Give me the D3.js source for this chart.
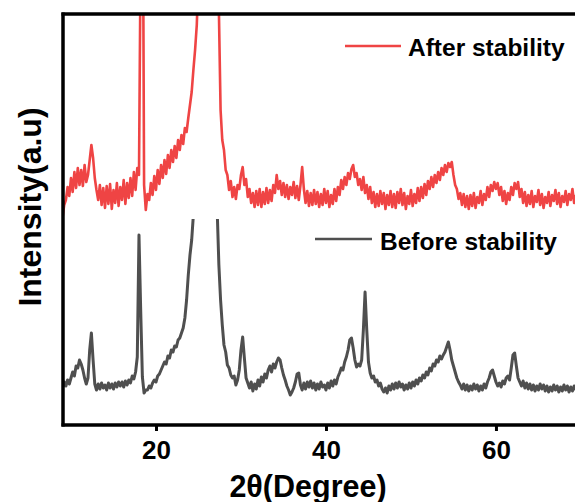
<!DOCTYPE html>
<html><head><meta charset="utf-8">
<script src="https://cdn.jsdelivr.net/npm/d3@7"></script>
<style>body{margin:0;background:#fff}svg{display:block}text{font-family:"Liberation Sans",Arial,sans-serif;font-weight:bold;fill:#000}</style>
</head><body>
<svg id="c" width="575" height="502"></svg>
<script>
// 2θ sampling: start and step (degrees)
const thetaStart = 9.0, thetaStep = 0.2;
const xTicks = [20, 40, 60];
const seriesNames = ["After stability", "Before stability"];
// After stability (red), intensity a.u., one value per 0.2°
const afterStability = [
207,220,225,238,229, 247,233,253,237,257, 240,255,239,260,243, 250,265,280,267,247,
235,225,240,220,237, 217,239,221,241,216, 235,222,242,219,238, 225,245,221,242,227,
247,229,253,235,257, 250,480,650,240,215, 231,225,242,230,249, 235,255,241,260,247,
265,251,270,257,275, 263,279,267,285,275, 290,281,297,293,307, 320,333,355,375,400,
450,520,600,650,680, 700,680,640,580,500, 470,440,415,315,285, 275,255,250,235,244,
228,238,226,240,236, 250,258,240,246,228, 236,222,232,218,234, 220,236,218,233,221,
237,222,235,224,240, 232,250,236,244,230, 242,228,240,226,238, 230,243,227,239,225,
240,258,236,222,234, 219,232,220,235,221, 233,218,231,220,236, 222,234,218,230,221,
236,224,238,230,245, 236,248,240,252,246, 256,260,248,252,240, 246,235,248,232,240,
226,238,222,233,218, 231,219,234,221,232, 216,230,220,234,218, 231,217,233,222,236,
220,232,216,229,221, 235,219,231,222,237, 224,238,227,241,230, 244,236,248,238,250,
242,253,245,257,250, 260,253,262,258,263, 250,240,236,226,232, 220,231,218,229,216,
230,219,232,217,228, 222,234,220,231,225, 238,228,240,234,243, 236,242,230,238,224,
234,221,232,225,238, 230,242,236,243,228, 236,222,233,219,230, 221,234,218,229,223,
235,220,231,217,228, 222,233,219,230,224, 235,221,232,218,229, 223,234,220,231,225,
236,222,230];
// Before stability (grey)
const beforeStability = [
37,43,39,45,41, 47,53,49,59,57, 65,61,55,47,41, 47,75,92,65,41,
35,41,36,42,37, 40,35,42,37,41, 36,42,38,43,39, 43,38,44,40,45,
42,49,46,53,68, 190,115,48,32,35, 35,39,37,42,45, 43,49,51,55,59,
63,61,69,67,75, 73,79,78,85,87, 92,97,107,125,150, 170,185,210,250,300,
350,400,420,420,400, 420,410,400,380,340, 280,215,160,125,100, 80,73,60,57,50,
47,49,40,45,55, 75,88,67,47,42, 37,43,34,41,36, 45,39,48,43,51,
47,55,59,53,61, 57,63,67,65,57, 50,45,39,35,30, 33,37,43,51,52,
40,35,42,36,43, 38,44,37,42,35, 41,36,43,38,40, 35,42,37,44,39,
45,41,48,52,57, 55,63,68,75,85, 87,77,65,58,61, 59,65,95,133,95,
63,52,47,49,43, 45,39,42,36,33, 37,32,39,35,41, 36,42,37,43,38,
41,35,40,36,42, 37,43,39,45,41, 47,44,50,47,53, 50,57,54,61,59,
65,63,69,66,70, 73,78,83,75,65, 59,53,47,43,40, 36,41,35,40,34,
39,35,41,36,40, 34,39,35,41,37, 43,47,53,55,49, 43,39,42,38,44,
41,47,49,45,57, 70,72,59,47,43, 39,44,37,42,36, 41,35,40,34,39,
35,41,36,40,34, 39,33,38,34,40, 35,39,33,38,34, 40,35,39,33,38,
34,39,35];
const legendColors = ["#ef4444", "#4f4f4f"];

const svg = d3.select("#c");
const L = 63, R = 575, T = 14, B = 425;
const x = d3.scaleLinear().domain([9.06, 69.3]).range([L, R]);
const y = d3.scaleLinear().domain([0, 411]).range([B, T]);
const theta = afterStability.map((_, i) => +(thetaStart + i * thetaStep).toFixed(1));

const defs = svg.append("defs");
defs.append("clipPath").attr("id", "clipTop").append("rect")
  .attr("x", L).attr("y", T).attr("width", R - L).attr("height", B - T);
defs.append("clipPath").attr("id", "clipBot").append("rect")
  .attr("x", L).attr("y", 219).attr("width", R - L).attr("height", B - 219);

const line = d3.line().x((d, i) => x(theta[i])).y(d => y(d));

svg.append("path").datum(beforeStability)
  .attr("clip-path", "url(#clipBot)")
  .attr("fill", "none").attr("stroke", legendColors[1]).attr("stroke-width", 3)
  .attr("stroke-linejoin", "round").attr("d", line);
svg.append("path").datum(afterStability)
  .attr("clip-path", "url(#clipTop)")
  .attr("fill", "none").attr("stroke", legendColors[0]).attr("stroke-width", 2.6)
  .attr("stroke-linejoin", "round").attr("d", line);

// frame
const xAxis = svg.append("g").attr("transform", `translate(0,${B})`)
  .call(d3.axisBottom(x).tickValues(xTicks).tickSize(6).tickPadding(10).tickFormat(d3.format("d")));
xAxis.select(".domain").attr("stroke", "#000").attr("stroke-width", 3.5).attr("d", `M${L - 1.5},0H${R + 5}`);
xAxis.selectAll(".tick line").attr("stroke", "#000").attr("stroke-width", 3);
xAxis.selectAll(".tick text").style("font-size", "26px").attr("dy", "0.71em");

svg.append("line").attr("x1", L).attr("x2", L).attr("y1", T - 1.5).attr("y2", B + 1.5)
  .attr("stroke", "#000").attr("stroke-width", 3.5);
svg.append("line").attr("x1", L - 1.5).attr("x2", R + 5).attr("y1", T).attr("y2", T)
  .attr("stroke", "#000").attr("stroke-width", 3.5);

// axis titles
svg.append("text").attr("x", 308).attr("y", 497).attr("text-anchor", "middle")
  .style("font-size", "30.5px").text("2θ(Degree)");
svg.append("text").attr("transform", "translate(41,207) rotate(-90)").attr("text-anchor", "middle")
  .style("font-size", "32px").text("Intensity(a.u)");

// legends
const leg = [
  {name: seriesNames[0], color: legendColors[0], x1: 345, x2: 401, ly: 46, tx: 408, ty: 56},
  {name: seriesNames[1], color: legendColors[1], x1: 315, x2: 372, ly: 239, tx: 380, ty: 250}
];
leg.forEach(d => {
  svg.append("line").attr("x1", d.x1).attr("x2", d.x2).attr("y1", d.ly).attr("y2", d.ly)
    .attr("stroke", d.color).attr("stroke-width", 2.5);
  svg.append("text").attr("x", d.tx).attr("y", d.ty).style("font-size", "24.5px").text(d.name);
});
</script>
</body></html>
